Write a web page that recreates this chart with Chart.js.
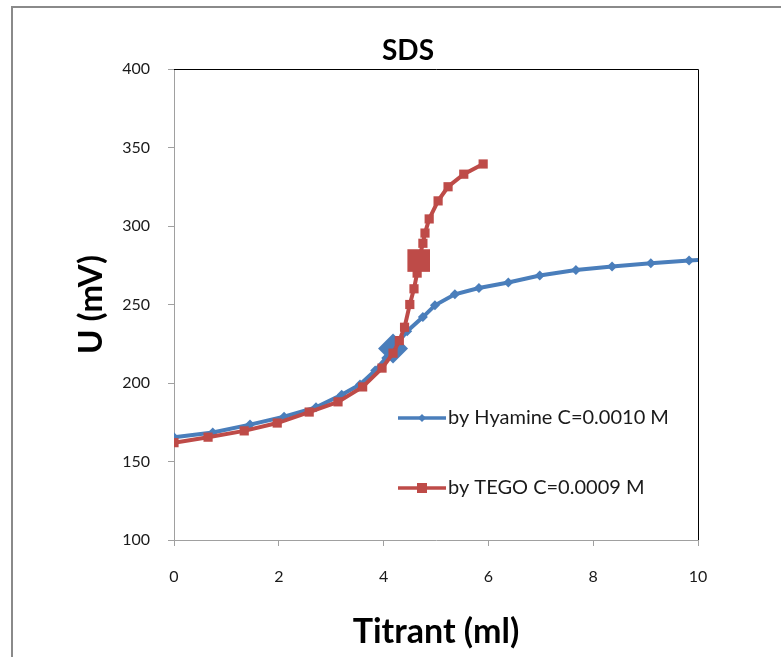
<!DOCTYPE html>
<html>
<head>
<meta charset="utf-8">
<script src="https://cdn.jsdelivr.net/npm/chart.js@4"></script>
<style>
  html, body { margin: 0; padding: 0; background: #fff; }
  #wrap { position: relative; width: 781px; height: 657px; }
</style>
</head>
<body>
<div id="wrap"><canvas id="sdsChart" width="781" height="657"></canvas></div>
<script>
// Titration data
const hyamineX = [0, 0.74, 1.45, 2.1, 2.71, 3.2, 3.55, 3.84, 4.05, 4.18, 4.45, 4.75, 4.98, 5.36, 5.82, 6.38, 6.98, 7.67, 8.36, 9.1, 9.83, 10.4];
const hyamineU = [165.5, 168.5, 173.5, 178.5, 184.5, 192.5, 199, 208, 216, 222, 233, 242, 249.5, 256.5, 260.5, 264, 268.5, 272, 274.2, 276.3, 278.1, 279];
const tegoX = [0, 0.65, 1.34, 1.97, 2.58, 3.13, 3.6, 3.97, 4.18, 4.3, 4.4, 4.5, 4.58, 4.64, 4.67, 4.75, 4.79, 4.87, 5.04, 5.23, 5.53, 5.9];
const tegoU = [162, 165.5, 169.5, 174.5, 181.5, 188, 197.5, 209.5, 219, 227, 235.5, 250, 260, 270, 278, 289, 295.5, 304.5, 316, 325, 333, 339.5];
const seriesLabels = ['by Hyamine C=0.0010 M', 'by TEGO C=0.0009 M'];
const chartTitle = 'SDS';
const xTicks = [0, 2, 4, 6, 8, 10];
const yTicks = [100, 150, 200, 250, 300, 350, 400];

const BLUE = '#4a7ebb';
const RED = '#be4b48';
const FONT = 'Lato, "Open Sans", sans-serif';

const toPoints = (xs, ys) => xs.map((x, i) => ({ x: x, y: ys[i] }));

// frame, title, black top/right border and the legend inside the plot
const extras = {
  id: 'extras',
  beforeDraw(chart) {
    const ctx = chart.ctx;
    ctx.save();
    ctx.fillStyle = '#fff';
    ctx.fillRect(0, 0, chart.width, chart.height);
    ctx.strokeStyle = '#8a8a8a';
    ctx.lineWidth = 2;
    ctx.strokeRect(12, 7, chart.width + 20, chart.height + 20);
    ctx.fillStyle = '#000';
    ctx.font = 'bold 28px ' + FONT;
    ctx.textAlign = 'center';
    ctx.textBaseline = 'middle';
    ctx.fillText(chartTitle, 408, 51);
    ctx.restore();
  },
  afterDraw(chart) {
    const ctx = chart.ctx;
    const a = chart.chartArea;
    ctx.save();
    ctx.strokeStyle = '#000';
    ctx.lineWidth = 1;
    ctx.beginPath();
    ctx.moveTo(a.left, a.top + 0.5);
    ctx.lineTo(a.right + 0.5, a.top + 0.5);
    ctx.lineTo(a.right + 0.5, a.bottom);
    ctx.stroke();

    // legend
    const rows = [418, 488];
    chart.data.datasets.forEach((ds, i) => {
      const y = rows[i];
      ctx.strokeStyle = ds.borderColor;
      ctx.lineWidth = 3.5;
      ctx.beginPath();
      ctx.moveTo(398, y);
      ctx.lineTo(446, y);
      ctx.stroke();
      ctx.fillStyle = ds.borderColor;
      if (i === 0) {
        ctx.beginPath();
        ctx.moveTo(422 - 4, y);
        ctx.lineTo(422, y - 4);
        ctx.lineTo(422 + 4, y);
        ctx.lineTo(422, y + 4);
        ctx.closePath();
        ctx.fill();
      } else {
        ctx.fillRect(422 - 5, y - 5, 10, 10);
      }
      ctx.fillStyle = '#1a1a1a';
      ctx.font = '20px ' + FONT;
      ctx.textBaseline = 'middle';
      ctx.textAlign = 'left';
      ctx.fillText(ds.label, 448, y);
    });
    ctx.restore();
  }
};

new Chart(document.getElementById('sdsChart'), {
  type: 'line',
  data: {
    datasets: [{
      label: seriesLabels[0],
      data: toPoints(hyamineX, hyamineU),
      borderColor: BLUE,
      backgroundColor: BLUE,
      borderWidth: 4,
      pointStyle: 'rectRot',
      pointRadius: c => c.dataIndex === 9 ? 15 : 5,
      pointBorderWidth: 0,
      tension: 0,
      clip: 0,
      order: 1
    }, {
      label: seriesLabels[1],
      data: toPoints(tegoX, tegoU),
      borderColor: RED,
      backgroundColor: RED,
      borderWidth: 4,
      pointStyle: 'rect',
      pointRadius: c => c.dataIndex === 14 ? 16 : 6.5,
      pointBorderWidth: 0,
      tension: 0,
      clip: 0,
      order: 0
    }]
  },
  options: {
    responsive: false,
    animation: false,
    events: [],
    layout: { padding: { left: 0, top: 69, right: 83, bottom: 0 } },
    plugins: {
      legend: { display: false },
      tooltip: { enabled: false },
      title: { display: false }
    },
    scales: {
      x: {
        type: 'linear',
        min: 0,
        max: 10,
        afterBuildTicks: s => { s.ticks = xTicks.map(v => ({ value: v })); },
        afterFit: s => { s.height = 117; },
        grid: { display: true, drawOnChartArea: false, drawTicks: true, tickLength: 6, color: '#a0a0a0' },
        border: { display: true, color: '#a0a0a0', width: 1 },
        ticks: { color: '#1a1a1a', font: { family: FONT, size: 16 }, padding: 21 },
        title: {
          display: true,
          text: 'Titrant (ml)',
          color: '#000',
          font: { family: FONT, size: 34, weight: 'bold' },
          padding: { top: 0, bottom: 5 }
        }
      },
      y: {
        type: 'linear',
        min: 100,
        max: 400,
        afterBuildTicks: s => { s.ticks = yTicks.map(v => ({ value: v })); },
        afterFit: s => { s.width = 174; },
        grid: { display: true, drawOnChartArea: false, drawTicks: true, tickLength: 6, color: '#a0a0a0' },
        border: { display: true, color: '#a0a0a0', width: 1 },
        ticks: { color: '#1a1a1a', font: { family: FONT, size: 16 }, padding: 18 },
        title: {
          display: true,
          text: 'U (mV)',
          color: '#000',
          font: { family: FONT, size: 33, weight: 'bold' },
          padding: { top: 72, bottom: 0 }
        }
      }
    }
  },
  plugins: [extras]
});
</script>
</body>
</html>
